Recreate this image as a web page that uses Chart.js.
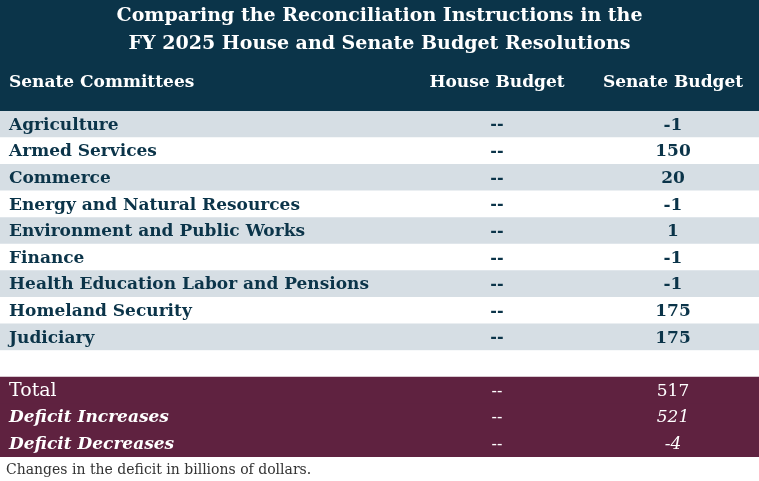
<!DOCTYPE html>
<html>
<head>
<meta charset="utf-8">
<script src="https://cdn.jsdelivr.net/npm/chart.js@4"></script>
<style>
  html, body { margin: 0; padding: 0; background: #fff; }
  #wrap { width: 759px; height: 481px; }
</style>
</head>
<body>
<div id="wrap"><canvas id="c"></canvas></div>
<script>
// Table data
const titleLines = ['Comparing the Reconciliation Instructions in the', 'FY 2025 House and Senate Budget Resolutions'];
const headers = ['Senate Committees', 'House Budget', 'Senate Budget'];
const committees = ['Agriculture', 'Armed Services', 'Commerce', 'Energy and Natural Resources',
  'Environment and Public Works', 'Finance', 'Health Education Labor and Pensions',
  'Homeland Security', 'Judiciary'];
const houseValues = ['--', '--', '--', '--', '--', '--', '--', '--', '--'];
const senateValues = ['-1', '150', '20', '-1', '1', '-1', '-1', '175', '175'];
const totalLabels = ['Total', 'Deficit Increases', 'Deficit Decreases'];
const totalHouse = ['--', '--', '--'];
const totalSenate = ['517', '521', '-4'];
const footnote = 'Changes in the deficit in billions of dollars.';

const NAVY = '#0b3449';
const GREY = '#d6dee4';
const MAROON = '#5f2240';
const FONT = '"DejaVu Serif", "Liberation Serif", serif';

// rows: committees, one blank spacer, totals
const rowLabels = [...committees, '', ...totalLabels];
const rowKind = [...committees.map(() => 'data'), 'blank', ...totalLabels.map(() => 'total')];
const rowColors = rowLabels.map((_, i) => {
  if (rowKind[i] === 'total') return MAROON;
  if (rowKind[i] === 'blank') return '#ffffff';
  return i % 2 === 0 ? GREY : '#ffffff';
});
const houseCol = [...houseValues, '', ...totalHouse];
const senateCol = [...senateValues, '', ...totalSenate];

const tablePlugin = {
  id: 'tableText',
  beforeDraw(chart) {
    const { ctx, width } = chart;
    ctx.save();
    ctx.fillStyle = NAVY;
    ctx.fillRect(0, 0, width, chart.chartArea.top);
    ctx.fillStyle = '#ffffff';
    ctx.textAlign = 'center';
    ctx.textBaseline = 'middle';
    ctx.font = 'bold 19px ' + FONT;
    ctx.fillText(titleLines[0], width / 2, 16);
    ctx.fillText(titleLines[1], width / 2, 44);
    ctx.font = 'bold 17px ' + FONT;
    ctx.textAlign = 'left';
    ctx.fillText(headers[0], 9, 83);
    ctx.textAlign = 'center';
    ctx.fillText(headers[1], 497, 83);
    ctx.fillText(headers[2], 673, 83);
    ctx.restore();
  },
  afterDatasetsDraw(chart) {
    const { ctx } = chart;
    const y = chart.scales.y;
    ctx.save();
    ctx.textBaseline = 'middle';
    rowLabels.forEach((label, i) => {
      const py = y.getPixelForValue(i) + 1;
      const total = rowKind[i] === 'total';
      const italic = total && i > rowLabels.length - 3;
      ctx.fillStyle = total ? '#ffffff' : NAVY;
      ctx.font = (italic ? 'italic bold ' : (total ? '' : 'bold ')) + '17px ' + FONT;
      if (!total) ctx.font = 'bold 17px ' + FONT;
      if (total && !italic) ctx.font = '19px ' + FONT;
      ctx.textAlign = 'left';
      ctx.fillText(label, 9, py);
      ctx.font = (total ? '' : 'bold ') + '16px ' + FONT;
      ctx.textAlign = 'center';
      ctx.fillText(houseCol[i], 497, py);
      ctx.font = (italic ? 'italic ' : (total ? '' : 'bold ')) + '17px ' + FONT;
      ctx.fillText(senateCol[i], 673, py);
    });
    ctx.fillStyle = '#333333';
    ctx.textAlign = 'left';
    ctx.font = '14px ' + FONT;
    ctx.fillText(footnote, 6, 470);
    ctx.restore();
  }
};

new Chart(document.getElementById('c'), {
  type: 'bar',
  data: {
    labels: rowLabels,
    datasets: [{
      data: rowLabels.map(() => [0, 1]),
      backgroundColor: rowColors,
      borderWidth: 0,
      barPercentage: 1,
      categoryPercentage: 1
    }]
  },
  options: {
    indexAxis: 'y',
    responsive: true,
    maintainAspectRatio: false,
    animation: false,
    layout: { padding: { top: 111, bottom: 24, left: 0, right: 0 } },
    plugins: { legend: { display: false }, tooltip: { enabled: false } },
    scales: {
      x: { display: false, min: 0, max: 1 },
      y: { display: false }
    }
  },
  plugins: [tablePlugin]
});
</script>
</body>
</html>
